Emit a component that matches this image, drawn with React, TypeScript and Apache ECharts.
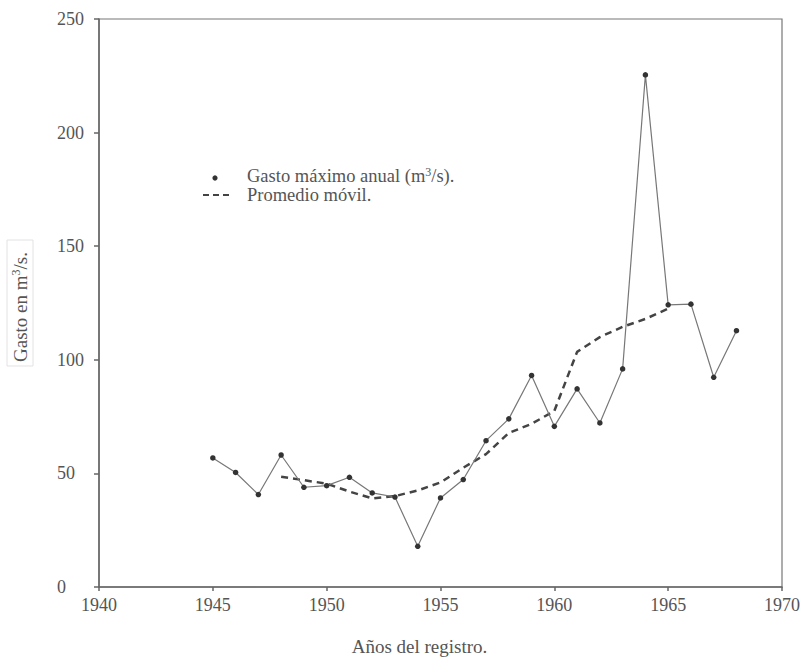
import React, { useEffect, useRef } from "react";
import * as echarts from "echarts";

const years = [1945, 1946, 1947, 1948, 1949, 1950, 1951, 1952, 1953, 1954, 1955, 1956, 1957, 1958, 1959, 1960, 1961, 1962, 1963, 1964, 1965, 1966, 1967, 1968];
const maxFlow = [56.8, 50.4, 40.7, 58.1, 43.9, 44.6, 48.3, 41.4, 39.6, 17.9, 39.2, 47.3, 64.4, 74, 93.1, 70.7, 87.2, 72.2, 96, 225.4, 124.2, 124.5, 92.3, 112.8];
const avgYears = [1948, 1949, 1950, 1951, 1952, 1953, 1954, 1955, 1956, 1957, 1958, 1959, 1960, 1961, 1962, 1963, 1964, 1965];
const movingAvg = [48.5, 47, 45.5, 42, 39, 40, 42.5, 46, 52.5, 58.5, 67.8, 71.8, 77.5, 103.5, 110, 114.5, 118, 122.5];

const FONT = "'Liberation Serif', 'DejaVu Serif', serif";
const TXT = "#555";

export default function App() {
  const ref = useRef<HTMLDivElement>(null);
  useEffect(() => {
    if (!ref.current) return;
    const chart = echarts.init(ref.current, null, { renderer: "svg" });
    chart.setOption({
      animation: false,
      backgroundColor: "#fff",
      textStyle: { fontFamily: FONT },
      grid: {
        left: 99,
        right: 19,
        top: 19,
        bottom: 74,
        containLabel: false,
        outerBoundsMode: "none",
        show: true,
        borderColor: "#777",
        borderWidth: 1.2,
      },
      xAxis: {
        type: "value",
        min: 1940,
        max: 1970,
        interval: 5,
        splitLine: { show: false },
        axisLine: { lineStyle: { color: "#666", width: 1.5 } },
        axisTick: { length: 4, lineStyle: { color: "#666", width: 1.5 } },
        axisLabel: { color: TXT, fontSize: 18, fontFamily: FONT, margin: 9, formatter: (v: number) => String(v) },
        name: "Años del registro.",
        nameLocation: "middle",
        nameGap: 50,
        nameTextStyle: { color: TXT, fontSize: 19, fontFamily: FONT, padding: [0, 42, 0, 0] },
      },
      yAxis: {
        type: "value",
        min: 0,
        max: 250,
        interval: 50,
        splitLine: { show: false },
        axisLine: { lineStyle: { color: "#666", width: 1.5 } },
        axisTick: { length: 5, lineStyle: { color: "#666", width: 1.5 } },
        axisLabel: { color: TXT, fontSize: 18, fontFamily: FONT, margin: 42, align: "left" },
        name: "Gasto en m{sup|3}/s.",
        nameLocation: "middle",
        nameRotate: 90,
        nameGap: 66,
        nameTextStyle: {
          color: TXT,
          fontSize: 19,
          fontFamily: FONT,
          borderColor: "#e2e2e2",
          borderWidth: 1,
          padding: [3, 12, 3, 4],
          rich: { sup: { fontSize: 12, verticalAlign: "top", color: TXT, fontFamily: FONT, padding: [0, 0, 8, 0] } },
        },
      },
      graphic: [
        { type: "circle", shape: { cx: 215, cy: 178, r: 2.6 }, style: { fill: "#333" } },
        {
          type: "text",
          x: 247,
          y: 176,
          style: {
            text: "Gasto máximo anual (m{sup|3}/s).",
            fill: TXT,
            fontSize: 18.5,
            fontFamily: FONT,
            verticalAlign: "middle",
            rich: { sup: { fontSize: 12, fill: TXT, fontFamily: FONT, padding: [0, 0, 9, 0] } },
          },
        },
        { type: "line", shape: { x1: 203, y1: 195, x2: 233, y2: 195 }, style: { stroke: "#444", lineWidth: 2, lineDash: [6, 4] } },
        { type: "text", x: 247, y: 195, style: { text: "Promedio móvil.", fill: TXT, fontSize: 18.5, fontFamily: FONT, verticalAlign: "middle" } },
      ],
      series: [
        {
          type: "line",
          data: years.map((y, i) => [y, maxFlow[i]]),
          symbol: "circle",
          symbolSize: 5.5,
          itemStyle: { color: "#333" },
          lineStyle: { color: "#777", width: 1.2 },
          z: 3,
        },
        {
          type: "line",
          data: avgYears.map((y, i) => [y, movingAvg[i]]),
          symbol: "none",
          lineStyle: { color: "#444", width: 2.5, type: [7, 5] },
          z: 2,
        },
      ],
    });
    return () => chart.dispose();
  }, []);
  return <div ref={ref} style={{ position: "fixed", left: 0, top: 0, width: 801, height: 661 }} />;
}
